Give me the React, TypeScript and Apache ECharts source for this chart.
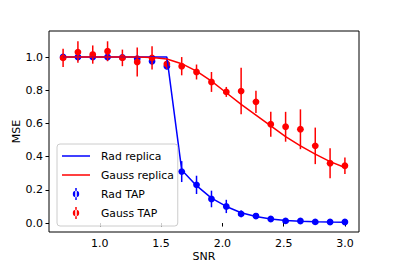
import React, { useEffect, useRef } from "react";
import * as echarts from "echarts";

const snr = [0.7, 0.821, 0.942, 1.063, 1.184, 1.305, 1.426, 1.547, 1.668, 1.789, 1.911, 2.032, 2.153, 2.274, 2.395, 2.516, 2.637, 2.758, 2.879, 3.0];
const radReplica = [1, 1, 1, 1, 1, 1, 1, 1.0, 0.32, 0.225, 0.15, 0.1, 0.062, 0.04, 0.025, 0.016, 0.011, 0.008, 0.006, 0.005];
const gaussReplica = [1, 1, 1, 1, 1, 1, 0.998, 0.988, 0.96, 0.915, 0.855, 0.785, 0.715, 0.65, 0.585, 0.52, 0.465, 0.415, 0.37, 0.335];
const radTap = [1.0, 1.0, 1.0, 1.0, 0.998, 0.99, 0.975, 0.945, 0.31, 0.23, 0.145, 0.1, 0.055, 0.042, 0.024, 0.013, 0.012, 0.007, 0.006, 0.006];
const radTapErr = [0.02, 0.02, 0.02, 0.02, 0.02, 0.02, 0.02, 0.02, 0.063, 0.055, 0.05, 0.04, 0.02, 0.012, 0.01, 0.008, 0.006, 0.005, 0.005, 0.005];
const gaussTap = [0.995, 1.03, 1.015, 1.035, 0.995, 0.97, 0.995, 0.958, 0.945, 0.91, 0.85, 0.79, 0.795, 0.73, 0.595, 0.58, 0.565, 0.465, 0.36, 0.345];
const gaussTapErr = [0.055, 0.065, 0.055, 0.06, 0.05, 0.087, 0.07, 0.03, 0.055, 0.045, 0.06, 0.03, 0.14, 0.067, 0.075, 0.09, 0.12, 0.11, 0.09, 0.05];
const xTicks = [1.0, 1.5, 2.0, 2.5, 3.0];
const yTicks = [0.0, 0.2, 0.4, 0.6, 0.8, 1.0];

const BLUE = "#0000ff";
const RED = "#ff0000";
const FONT = "DejaVu Sans";
const FS = 11;

const lineIcon = "path://M0,0 M34,14 M0,6.25 L28,6.25 L28,7.75 L0,7.75 Z";
const errIcon =
  "path://M0,0 M34,14 M13.25,1 L14.75,1 L14.75,13 L13.25,13 Z M14,3.8 A3.2,3.2 0 1,0 14,10.2 A3.2,3.2 0 1,0 14,3.8 Z";

function errSeries(name: string, ys: number[], es: number[], color: string) {
  return {
    name,
    type: "custom",
    itemStyle: { color },
    data: snr.map((x, i) => [x, ys[i], es[i]]),
    encode: { x: 0, y: 1 },
    renderItem: (_p: any, api: any) => {
      const x = api.value(0);
      const y = api.value(1);
      const e = api.value(2);
      const top = api.coord([x, y + e]);
      const bot = api.coord([x, y - e]);
      const c = api.coord([x, y]);
      return {
        type: "group",
        children: [
          {
            type: "line",
            shape: { x1: top[0], y1: top[1], x2: bot[0], y2: bot[1] },
            style: { stroke: color, lineWidth: 1.5 },
          },
          {
            type: "circle",
            shape: { cx: c[0], cy: c[1], r: 3.4 },
            style: { fill: color },
          },
        ],
      };
    },
  };
}

export default function App() {
  const ref = useRef<HTMLDivElement>(null);
  useEffect(() => {
    if (!ref.current) return;
    const chart = echarts.init(ref.current, undefined, { renderer: "svg" });
    chart.setOption({
      animation: false,
      backgroundColor: "#fff",
      textStyle: { fontFamily: FONT },
      grid: {
        left: 49,
        right: 40,
        top: 31,
        bottom: 34,
        containLabel: false,
        outerBoundsMode: "none",
        show: true,
        borderColor: "#000",
        borderWidth: 1,
        backgroundColor: "transparent",
      },
      xAxis: {
        type: "value",
        min: 0.585,
        max: 3.115,
        name: "SNR",
        nameLocation: "middle",
        nameGap: 19,
        nameMoveOverlap: false,
        nameTextStyle: { fontFamily: FONT, fontSize: FS, color: "#000" },
        axisLine: { show: false },
        splitLine: { show: false },
        axisTick: { show: true, length: 3.5, customValues: xTicks, lineStyle: { color: "#000" } },
        axisLabel: {
          customValues: xTicks,
          margin: 6,
          fontFamily: FONT,
          fontSize: FS,
          color: "#000",
          formatter: (v: number) => v.toFixed(1),
        },
      },
      yAxis: {
        type: "value",
        min: -0.054,
        max: 1.157,
        name: "MSE",
        nameLocation: "middle",
        nameGap: 27,
        nameMoveOverlap: false,
        nameTextStyle: { fontFamily: FONT, fontSize: FS, color: "#000" },
        axisLine: { show: false },
        splitLine: { show: false },
        axisTick: { show: true, length: 3.5, customValues: yTicks, lineStyle: { color: "#000" } },
        axisLabel: {
          customValues: yTicks,
          margin: 6,
          fontFamily: FONT,
          fontSize: FS,
          color: "#000",
          formatter: (v: number) => v.toFixed(1),
        },
      },
      legend: {
        orient: "vertical",
        left: 57,
        top: 144,
        padding: [5, 4, 6, 5],
        itemWidth: 34,
        itemHeight: 14,
        itemGap: 5,
        backgroundColor: "rgba(255,255,255,0.8)",
        borderColor: "#cccccc",
        borderWidth: 1,
        borderRadius: 3,
        itemStyle: { borderWidth: 0 },
        textStyle: { fontFamily: FONT, fontSize: 10.8, color: "#000", padding: [0, 0, 0, 0] },
        data: [
          { name: "Rad replica", icon: lineIcon },
          { name: "Gauss replica", icon: lineIcon },
          { name: "Rad TAP", icon: errIcon },
          { name: "Gauss TAP", icon: errIcon },
        ],
      },
      series: [
        {
          name: "Rad replica",
          type: "line",
          data: snr.map((x, i) => [x, radReplica[i]]),
          symbol: "none",
          itemStyle: { color: BLUE },
          lineStyle: { color: BLUE, width: 1.5 },
        },
        {
          name: "Gauss replica",
          type: "line",
          data: snr.map((x, i) => [x, gaussReplica[i]]),
          symbol: "none",
          itemStyle: { color: RED },
          lineStyle: { color: RED, width: 1.5 },
        },
        errSeries("Rad TAP", radTap, radTapErr, BLUE),
        errSeries("Gauss TAP", gaussTap, gaussTapErr, RED),
      ],
    });
    return () => chart.dispose();
  }, []);
  return (
    <div
      ref={ref}
      style={{ position: "fixed", left: 0, top: 0, width: 399, height: 266 }}
    />
  );
}
